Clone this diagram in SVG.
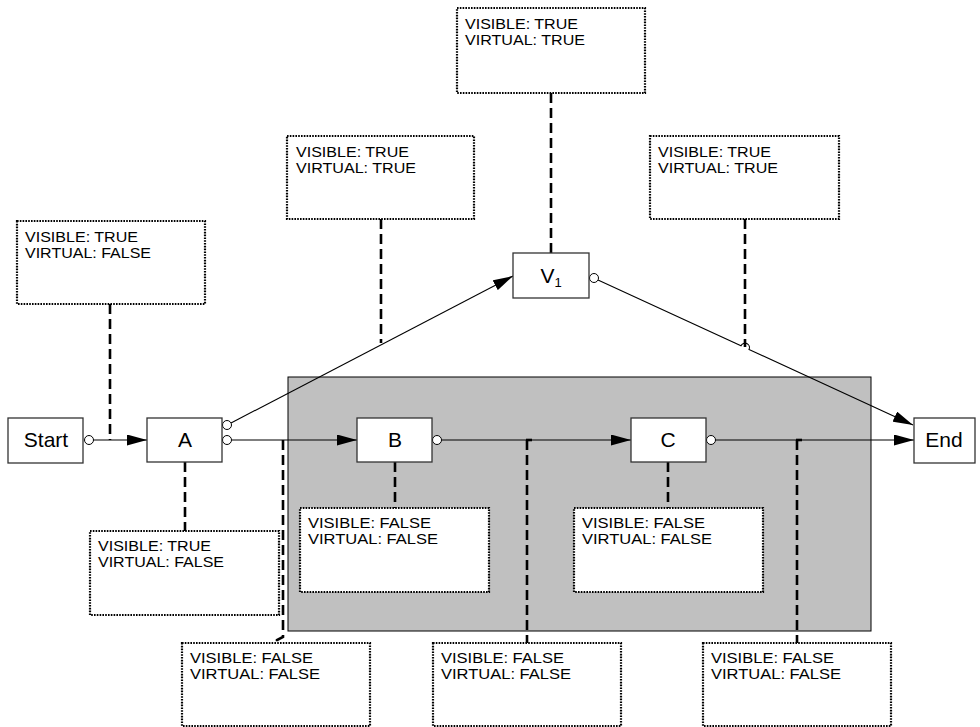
<svg xmlns="http://www.w3.org/2000/svg" width="980" height="727" viewBox="0 0 980 727">
<defs>
<style>
.node{fill:#fff;stroke:#333;stroke-width:1.3}
.note{fill:#fff;stroke:#000;stroke-width:2.2;stroke-dasharray:1.6 1.2}
.lbl{font-family:"Liberation Sans",Arial,sans-serif;font-size:21px;fill:#000;text-anchor:middle}
.nt{font-family:"Liberation Sans",Arial,sans-serif;font-size:15.5px;fill:#000}
.edge{fill:none;stroke:#000;stroke-width:1.1}
.dash{fill:none;stroke:#000;stroke-width:2.6;stroke-dasharray:10 5}
.port{fill:#fff;stroke:#000;stroke-width:1}
</style>
<marker id="arr" markerUnits="userSpaceOnUse" markerWidth="20" markerHeight="11" refX="20" refY="5.5" orient="auto">
<path d="M0,0 L20,5.5 L0,11 z" fill="#000"/>
</marker>
</defs>
<rect width="980" height="727" fill="#fff"/>
<g id="container">
<rect x="288" y="377" width="583" height="254" fill="#c0c0c0" stroke="#000" stroke-width="1"/>
</g>
<g id="connectors">
<line class="edge" x1="93.5" y1="440" x2="147" y2="440" marker-end="url(#arr)"/>
<line class="edge" x1="231.5" y1="440" x2="357" y2="440" marker-end="url(#arr)"/>
<line class="edge" x1="231" y1="423" x2="513" y2="276" marker-end="url(#arr)"/>
<line class="edge" x1="441.5" y1="440" x2="631" y2="440" marker-end="url(#arr)"/>
<line class="edge" x1="715.5" y1="440" x2="914" y2="440" marker-end="url(#arr)"/>
<path class="edge" d="M598,280 L741,345.7 A4,4 0 0 1 749,349.4 L913,425" marker-end="url(#arr)"/>
<circle class="port" cx="89" cy="440" r="4.5"/>
<circle class="port" cx="227" cy="425" r="4.5"/>
<circle class="port" cx="227" cy="440" r="4.5"/>
<circle class="port" cx="437" cy="440" r="4.5"/>
<circle class="port" cx="711" cy="440" r="4.5"/>
<circle class="port" cx="594" cy="278" r="4.5"/>
<line class="dash" x1="110" y1="304" x2="110" y2="440"/>
<line class="dash" x1="185" y1="462" x2="185" y2="531"/>
<line class="dash" x1="395" y1="462" x2="395" y2="508"/>
<line class="dash" x1="668" y1="462" x2="668" y2="508"/>
<line class="dash" x1="551" y1="93" x2="551" y2="253"/>
<line class="dash" x1="381" y1="219" x2="381" y2="343"/>
<line class="dash" x1="745" y1="219" x2="745" y2="347"/>
<polyline class="dash" points="283,440 283,637 277,640 277,643"/>
<line class="dash" x1="527" y1="440" x2="527" y2="643"/>
<line class="dash" x1="797" y1="440" x2="797" y2="643"/>
<line x1="526" y1="440" x2="532" y2="440" stroke="#000" stroke-width="2.6"/>
<line x1="796" y1="440" x2="802" y2="440" stroke="#000" stroke-width="2.6"/>
</g>
<g id="start"><rect class="node" x="8" y="418" width="75" height="45"/><text class="lbl" x="46" y="447">Start</text></g>
<g id="a"><rect class="node" x="147" y="418" width="75" height="44"/><text class="lbl" x="185" y="447">A</text></g>
<g id="b"><rect class="node" x="357" y="418" width="75" height="44"/><text class="lbl" x="395" y="447">B</text></g>
<g id="c"><rect class="node" x="631" y="418" width="75" height="44"/><text class="lbl" x="668" y="447">C</text></g>
<g id="end"><rect class="node" x="914" y="418" width="61" height="45"/><text class="lbl" x="944" y="447">End</text></g>
<g id="v1"><rect class="node" x="513" y="253" width="76" height="45"/><text class="lbl" x="551" y="283" font-size="22">V<tspan font-size="13" dy="4">1</tspan></text></g>
<g id="note-top"><rect class="note" x="457" y="8" width="188" height="85"/><text class="nt" x="465" y="29" textLength="113" lengthAdjust="spacingAndGlyphs">VISIBLE: TRUE</text><text class="nt" x="465" y="45" textLength="120" lengthAdjust="spacingAndGlyphs">VIRTUAL: TRUE</text></g>
<g id="note-av1"><rect class="note" x="287" y="136" width="187" height="83"/><text class="nt" x="296" y="157" textLength="113" lengthAdjust="spacingAndGlyphs">VISIBLE: TRUE</text><text class="nt" x="296" y="173" textLength="120" lengthAdjust="spacingAndGlyphs">VIRTUAL: TRUE</text></g>
<g id="note-v1end"><rect class="note" x="650" y="136" width="189" height="83"/><text class="nt" x="658" y="157" textLength="113" lengthAdjust="spacingAndGlyphs">VISIBLE: TRUE</text><text class="nt" x="658" y="173" textLength="120" lengthAdjust="spacingAndGlyphs">VIRTUAL: TRUE</text></g>
<g id="note-starta"><rect class="note" x="17" y="221" width="188" height="83"/><text class="nt" x="25" y="242" textLength="113" lengthAdjust="spacingAndGlyphs">VISIBLE: TRUE</text><text class="nt" x="25" y="258" textLength="126" lengthAdjust="spacingAndGlyphs">VIRTUAL: FALSE</text></g>
<g id="note-a"><rect class="note" x="90" y="531" width="189" height="84"/><text class="nt" x="98" y="551" textLength="113" lengthAdjust="spacingAndGlyphs">VISIBLE: TRUE</text><text class="nt" x="98" y="567" textLength="126" lengthAdjust="spacingAndGlyphs">VIRTUAL: FALSE</text></g>
<g id="note-b"><rect class="note" x="300" y="508" width="189" height="84"/><text class="nt" x="308" y="528" textLength="123" lengthAdjust="spacingAndGlyphs">VISIBLE: FALSE</text><text class="nt" x="308" y="544" textLength="130" lengthAdjust="spacingAndGlyphs">VIRTUAL: FALSE</text></g>
<g id="note-c"><rect class="note" x="574" y="508" width="189" height="84"/><text class="nt" x="582" y="528" textLength="123" lengthAdjust="spacingAndGlyphs">VISIBLE: FALSE</text><text class="nt" x="582" y="544" textLength="130" lengthAdjust="spacingAndGlyphs">VIRTUAL: FALSE</text></g>
<g id="note-ab"><rect class="note" x="182" y="643" width="188" height="83"/><text class="nt" x="190" y="663" textLength="123" lengthAdjust="spacingAndGlyphs">VISIBLE: FALSE</text><text class="nt" x="190" y="679" textLength="130" lengthAdjust="spacingAndGlyphs">VIRTUAL: FALSE</text></g>
<g id="note-bc"><rect class="note" x="433" y="643" width="188" height="83"/><text class="nt" x="441" y="663" textLength="123" lengthAdjust="spacingAndGlyphs">VISIBLE: FALSE</text><text class="nt" x="441" y="679" textLength="130" lengthAdjust="spacingAndGlyphs">VIRTUAL: FALSE</text></g>
<g id="note-cend"><rect class="note" x="703" y="643" width="188" height="83"/><text class="nt" x="711" y="663" textLength="123" lengthAdjust="spacingAndGlyphs">VISIBLE: FALSE</text><text class="nt" x="711" y="679" textLength="130" lengthAdjust="spacingAndGlyphs">VIRTUAL: FALSE</text></g>
</svg>
